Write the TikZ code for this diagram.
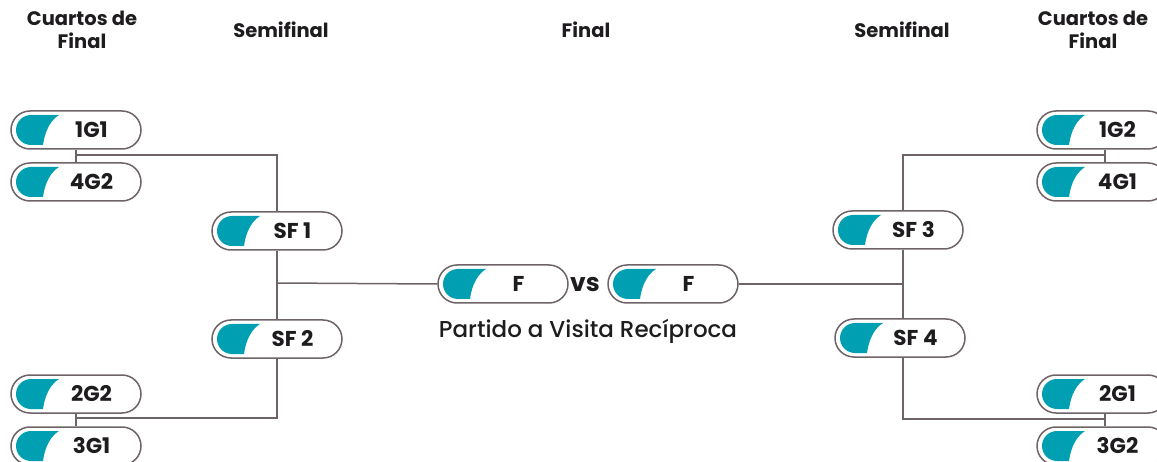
\documentclass[tikz,border=0pt]{standalone}
\usepackage{fontspec}
\setmainfont{Poppins}
\newfontfamily\mediumfont{Poppins Medium}
\usepackage{tikz}
\definecolor{pillteal}{RGB}{0,160,178}
\definecolor{linegray}{RGB}{110,100,103}
\definecolor{inkblack}{RGB}{30,28,30}
\newcommand{\pb}{path picture bounding box.center}

\begin{document}
\begin{tikzpicture}[
        x=1pt, y=1pt,
        pill/.style={rectangle, rounded corners=19pt, draw=linegray, line width=1.5pt, fill=white, text=inkblack,
            minimum width=130pt, minimum height=38pt, inner sep=0pt, font=\fontsize{21.5}{23}\selectfont\bfseries,
            execute at begin node={\hspace*{31pt}},
            path picture={\fill[pillteal, sharp corners]
                ([shift={(-17,15)}]\pb) .. controls ([shift={(-25,10)}]\pb) and ([shift={(-31,0)}]\pb) .. ([shift={(-33,-15)}]\pb)
                -- ([shift={(-45,-15)}]\pb) arc[start angle=270, end angle=90, radius=15] -- cycle;}},
        head/.style={align=center, text=inkblack, font=\fontsize{19.5}{23}\selectfont\bfseries},
        line/.style={draw=linegray, line width=1.5pt}
    ]
    \useasboundingbox (0,0) rectangle (1157,461);

    % encabezados
    \node[head] (h_qf_l) at (82,431) {Cuartos de\\Final};
    \node[head] (h_sf_l) at (281,431) {Semifinal};
    \node[head] (h_final) at (586,431) {Final};
    \node[head] (h_sf_r) at (902,431) {Semifinal};
    \node[head] (h_qf_r) at (1093,431) {Cuartos de\\Final};

    % lado izquierdo
    \node[pill] (g1a) at (76,331) {1G1};
    \node[pill] (g2b) at (76,279) {4G2};
    \node[pill] (sf1) at (277,230) {SF 1};
    \node[pill] (sf2) at (277,122) {SF 2};
    \node[pill] (g2a) at (76,67) {2G2};
    \node[pill] (g1c) at (76,15) {3G1};

    % final
    \node[pill] (fin_l) at (503,177) {F};
    \node[pill] (fin_r) at (673,177) {F};
    \node[text=inkblack, font=\fontsize{25}{27}\selectfont\bfseries] (vs) at (585,176) {vs};
    \node[text=inkblack, font=\fontsize{23}{25}\selectfont\mediumfont] (partido) at (588,130) {Partido a Visita Recíproca};

    % lado derecho
    \node[pill] (g1b) at (1102,331) {1G2};
    \node[pill] (g2c) at (1102,279) {4G1};
    \node[pill] (sf3) at (898,231) {SF 3};
    \node[pill] (sf4) at (900,123) {SF 4};
    \node[pill] (g2d) at (1102,67) {2G1};
    \node[pill] (g1d) at (1102,15) {3G2};

    % puntos de union
    \coordinate (join_a) at (76,306);
    \coordinate (join_b) at (76,43);
    \coordinate (join_c) at (1105,306);
    \coordinate (join_d) at (1105,42);
    \coordinate (join_e) at (277,178);
    \coordinate (join_f) at (903,177);

    % conexiones
    \path [line] (g1a) -- (g2b);
    \path [line] (g2a) -- (g1c);
    \path [line] (g1b.south -| join_c) -- (g2c.north -| join_c);
    \path [line] (g2d.south -| join_d) -- (g1d.north -| join_d);
    \path [line] (join_a) -| (sf1.north);
    \path [line] (join_b) -| (sf2.south);
    \path [line] (sf1) -- (sf2);
    \path [line] (join_e) -- (fin_l.west);
    \path [line] (join_c) -| (sf3.north -| join_f);
    \path [line] (join_d) -| (sf4.south -| join_f);
    \path [line] (sf3.south -| join_f) -- (sf4.north -| join_f);
    \path [line] (fin_r.east) -- (join_f);

\end{tikzpicture}
\end{document}
